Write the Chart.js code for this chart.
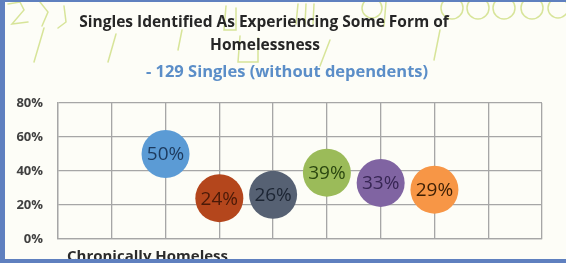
<!DOCTYPE html>
<html lang="en">
<head>
    <meta charset="UTF-8"/>
    <title>Singles Identified As Experiencing Some Form of Homelessness</title>
    <script src="https://cdn.jsdelivr.net/npm/chart.js"></script>
    <style>
        html, body {
            margin: 0;
            padding: 0;
            background-color: #fdfdf7;
            overflow: hidden;
        }
        .chart-box {
            position: relative;
            width: 566px;
            height: 263px;
        }
    </style>
</head>
<body>
<div class="chart-box">
    <canvas id="bubbleChart"></canvas>
</div>

<script>
    // data
    const groupPositions = [2, 3, 4, 5, 6, 7];
    const groupShares = [50, 24, 26, 39, 33, 29];
    const yTicks = [0, 20, 40, 60, 80];

    const titleLines = ['Singles Identified As Experiencing Some Form of', 'Homelessness'];
    const subtitleText = '- 129 Singles (without dependents)';
    const bottomLabel = 'Chronically Homeless';

    const fillColors = ['#5b9bd5', '#b4461c', '#566173', '#9bbb59', '#8064a2', '#f79646'];
    const textColors = ['#1d3a5e', '#4a1a08', '#1c2533', '#2b4710', '#372654', '#3d1f04'];

    const FONT = "'Open Sans', 'Liberation Sans', sans-serif";

    // bubbles, one dataset each so every one gets its own colour
    const datasets = groupShares.map((v, i) => ({
        label: v + '%',
        data: [{ x: groupPositions[i], y: v }],
        backgroundColor: fillColors[i],
        borderColor: fillColors[i],
        borderWidth: 0,
        radius: 24,
        hoverRadius: 0
    }));

    // slide frame, titles and the faint handwriting behind the chart
    const decorPlugin = {
        id: 'decor',
        beforeDraw(chart) {
            const c = chart.ctx;
            c.save();
            c.fillStyle = '#fdfdf7';
            c.fillRect(0, 0, chart.width, chart.height);

            c.strokeStyle = 'rgba(190, 212, 90, 0.6)';
            c.lineWidth = 1.5;
            c.lineCap = 'round';
            const strokes = [
                [[8, 4], [20, 2], [24, 10], [12, 24], [28, 22]],
                [[40, 2], [48, 12], [42, 26]],
                [[64, 6], [66, 22], [58, 28]],
                [[44, 28], [34, 62]],
                [[116, 34], [108, 62]],
                [[182, 30], [178, 50]],
                [[226, 6], [224, 30], [236, 30], [236, 8]],
                [[240, 36], [238, 62], [258, 62], [258, 38]],
                [[298, 4], [296, 24]], [[306, 4], [305, 24]], [[314, 4], [313, 24]],
                [[330, 40], [320, 66]],
                [[386, 2], [384, 26]],
                [[440, 30], [434, 60]]
            ];
            strokes.forEach(s => {
                c.beginPath();
                c.moveTo(s[0][0], s[0][1]);
                for (let k = 1; k < s.length; k++) c.lineTo(s[k][0], s[k][1]);
                c.stroke();
            });
            [[372, 8, 10], [452, 8, 11], [478, 8, 11], [504, 8, 11], [532, 8, 11], [558, 8, 10]].forEach(o => {
                c.beginPath();
                c.arc(o[0], o[1], o[2], 0, Math.PI * 2);
                c.stroke();
            });

            c.fillStyle = '#262626';
            c.textAlign = 'center';
            c.textBaseline = 'middle';
            c.font = 'bold 15.5px ' + FONT;
            c.fillText(titleLines[0], 264, 23);
            c.fillText(titleLines[1], 265, 46);
            c.font = 'bold 16.5px ' + FONT;
            c.fillStyle = '#5b8ec8';
            c.fillText(subtitleText, 287, 72);
            c.restore();
        },
        afterDatasetsDraw(chart) {
            const c = chart.ctx;
            c.save();
            c.font = '19px ' + FONT;
            c.textAlign = 'center';
            c.textBaseline = 'middle';
            chart.data.datasets.forEach((ds, i) => {
                const el = chart.getDatasetMeta(i).data[0];
                c.fillStyle = textColors[i];
                c.fillText(ds.label, el.x, el.y + 1);
            });
            c.restore();
        },
        afterDraw(chart) {
            const c = chart.ctx;
            c.save();
            c.fillStyle = '#2b2b2b';
            c.font = 'bold 15px ' + FONT;
            c.textAlign = 'left';
            c.textBaseline = 'top';
            c.fillText(bottomLabel, 67, 249);
            c.fillStyle = '#5f80bf';
            c.fillRect(0, 259, chart.width, 4);
            c.fillRect(0, 0, 5, chart.height);
            c.fillRect(0, 0, chart.width, 2);
            c.restore();
        }
    };

    const ctx = document.getElementById('bubbleChart').getContext('2d');

    new Chart(ctx, {
        type: 'bubble',
        data: { datasets: datasets },
        options: {
            responsive: true,
            maintainAspectRatio: false,
            animation: false,
            layout: {
                padding: { top: 103, right: 15, bottom: 22, left: 0 }
            },
            scales: {
                x: {
                    type: 'linear',
                    min: 0,
                    max: 9,
                    ticks: { display: false, stepSize: 1 },
                    grid: { color: '#a6a6a6', lineWidth: 1.3, drawTicks: false },
                    border: { color: '#a6a6a6', width: 1.3 }
                },
                y: {
                    min: 0,
                    max: 80,
                    afterFit(scale) { scale.width = 58; },
                    afterBuildTicks(scale) { scale.ticks = yTicks.map(v => ({ value: v })); },
                    ticks: {
                        padding: 15,
                        color: '#404040',
                        font: { family: FONT, size: 13, weight: 'bold' },
                        callback: v => v + '%'
                    },
                    grid: { color: '#a6a6a6', lineWidth: 1.3, drawTicks: false },
                    border: { color: '#a6a6a6', width: 1.3 }
                }
            },
            plugins: {
                legend: { display: false },
                tooltip: { enabled: false }
            }
        },
        plugins: [decorPlugin]
    });
</script>
</body>
</html>
